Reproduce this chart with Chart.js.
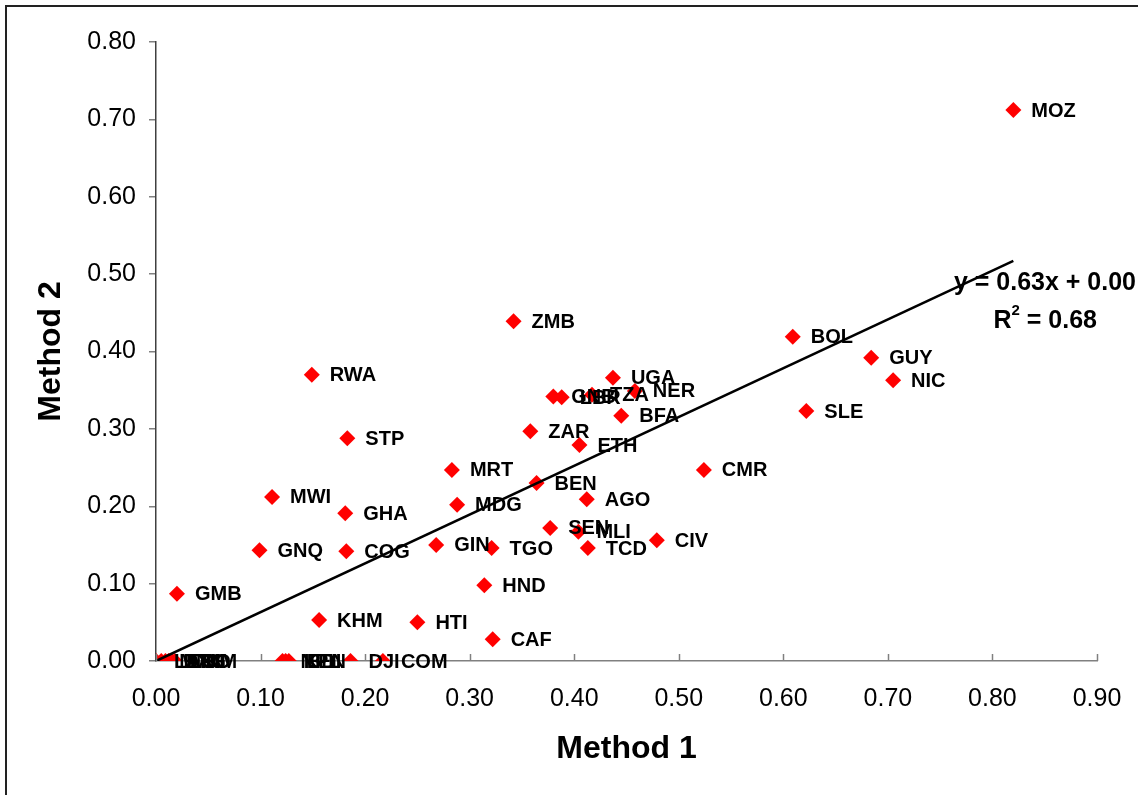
<!DOCTYPE html>
<html>
<head>
<meta charset="utf-8">
<title>Method 1 vs Method 2</title>
<script src="https://cdn.jsdelivr.net/npm/chart.js@4.4.0/dist/chart.umd.min.js"></script>
<style>
    html, body { margin: 0; padding: 0; background: #fff; }
    #wrap { position: relative; width: 1138px; height: 795px; overflow: hidden; }
    #frame { position: absolute; left: 5px; top: 5px; width: 1160px; height: 820px; border: 2px solid #222; box-sizing: border-box; pointer-events: none; }
</style>
</head>
<body>
<div id="wrap">
    <canvas id="scatterChart" width="1138" height="795"></canvas>
    <div id="frame"></div>
</div>
<script>
const countries = [
    'MOZ', 'ZMB', 'BOL', 'GUY', 'NIC', 'SLE', 'RWA', 'UGA', 'NER', 'GNB',
    'LBR', 'TZA', 'BFA', 'ZAR', 'ETH', 'STP', 'MRT', 'CMR', 'BEN', 'MWI',
    'AGO', 'MDG', 'GHA', 'SEN', 'MLI', 'TCD', 'CIV', 'GNQ', 'COG', 'GIN',
    'TGO', 'GMB', 'HND', 'KHM', 'HTI', 'CAF', 'NPL', 'KEN', 'BDI', 'DJI',
    'COM', 'LAO', 'MNG', 'BTN', 'ERI', 'LSO', 'VNM'
];
const method1 = [
    0.820, 0.342, 0.609, 0.684, 0.705, 0.622, 0.149, 0.437, 0.458, 0.380,
    0.388, 0.417, 0.445, 0.358, 0.405, 0.183, 0.283, 0.524, 0.364, 0.111,
    0.412, 0.288, 0.181, 0.377, 0.404, 0.413, 0.479, 0.099, 0.182, 0.268,
    0.321, 0.020, 0.314, 0.156, 0.250, 0.322, 0.121, 0.124, 0.127, 0.186,
    0.217, 0.000, 0.005, 0.009, 0.012, 0.015, 0.018
];
const method2 = [
    0.712, 0.439, 0.419, 0.392, 0.363, 0.323, 0.370, 0.366, 0.349, 0.342,
    0.341, 0.344, 0.317, 0.297, 0.279, 0.288, 0.247, 0.247, 0.230, 0.212,
    0.209, 0.202, 0.191, 0.172, 0.167, 0.146, 0.156, 0.143, 0.142, 0.150,
    0.146, 0.087, 0.098, 0.053, 0.050, 0.028, 0.000, 0.000, 0.000, 0.000,
    0.000, 0.000, 0.000, 0.000, 0.000, 0.000, 0.000
];
const trendX = [0.00, 0.82];
const trendY = [0.00, 0.517];
const equationText = 'y = 0.63x + 0.00';
const r2Text = '0.68';

const FONT = "'Liberation Sans', Arial, sans-serif";
const AXIS_GREY = '#808080';

// labels next to each diamond
const pointLabels = {
    id: 'pointLabels',
    afterDatasetsDraw(chart) {
        const ctx = chart.ctx;
        const meta = chart.getDatasetMeta(0);
        ctx.save();
        ctx.font = `bold 20px ${FONT}`;
        ctx.fillStyle = '#000';
        ctx.textBaseline = 'middle';
        meta.data.forEach((el, i) => {
            ctx.fillText(countries[i], el.x + 18, el.y + 1);
        });

        // equation + R2
        ctx.textAlign = 'right';
        ctx.font = `bold 25px ${FONT}`;
        ctx.fillText(equationText, 1136, 283);
        const rRight = 1097;
        const valueText = ' = ' + r2Text;
        const wVal = ctx.measureText(valueText).width;
        ctx.fillText(valueText, rRight, 321);
        ctx.font = `bold 15px ${FONT}`;
        const wSup = ctx.measureText('2').width;
        ctx.fillText('2', rRight - wVal, 311);
        ctx.font = `bold 25px ${FONT}`;
        ctx.fillText('R', rRight - wVal - wSup, 321);
        ctx.restore();
    },
    afterDraw(chart) {
        // x ticks point up into the plot
        const ctx = chart.ctx;
        const x = chart.scales.x;
        ctx.save();
        ctx.strokeStyle = AXIS_GREY;
        ctx.lineWidth = 1.5;
        x.ticks.forEach((t) => {
            const px = Math.round(x.getPixelForValue(t.value)) + 0.5;
            ctx.beginPath();
            ctx.moveTo(px, x.top);
            ctx.lineTo(px, x.top - 7);
            ctx.stroke();
        });
        ctx.restore();
    }
};

function renderChart() {
    const ctx = document.getElementById('scatterChart');
    const points = method1.map((v, i) => ({ x: v, y: method2[i] }));
    const trend = trendX.map((v, i) => ({ x: v, y: trendY[i] }));

    new Chart(ctx, {
        type: 'scatter',
        data: {
            datasets: [{
                label: 'Countries',
                data: points,
                pointStyle: 'rectRot',
                pointRadius: 8,
                backgroundColor: '#ff0000',
                borderColor: '#ff0000',
                borderWidth: 0,
                order: 1
            }, {
                type: 'line',
                label: 'Trend',
                data: trend,
                borderColor: '#000',
                borderWidth: 2.5,
                pointRadius: 0,
                fill: false,
                order: 0
            }]
        },
        options: {
            responsive: false,
            animation: false,
            layout: { padding: { top: 42, right: 41, left: 0, bottom: 0 } },
            plugins: { legend: { display: false }, tooltip: { enabled: false } },
            scales: {
                x: {
                    type: 'linear',
                    min: 0,
                    max: 0.9,
                    ticks: {
                        stepSize: 0.1,
                        color: '#000',
                        padding: 23,
                        font: { family: FONT, size: 25 },
                        callback: (v) => Number(v).toFixed(2)
                    },
                    grid: { drawOnChartArea: false, drawTicks: false },
                    border: { color: AXIS_GREY, width: 1.5 },
                    title: {
                        display: true,
                        text: 'Method 1',
                        color: '#000',
                        font: { family: FONT, size: 32, weight: 'bold' },
                        padding: { top: 0, bottom: 27 }
                    },
                    afterFit(scale) {
                        scale.height = 134;
                        scale.paddingLeft = 0;
                        scale.paddingRight = 0;
                    }
                },
                y: {
                    type: 'linear',
                    min: 0,
                    max: 0.8,
                    ticks: {
                        stepSize: 0.1,
                        color: '#000',
                        padding: 13,
                        font: { family: FONT, size: 25 },
                        callback: (v) => Number(v).toFixed(2)
                    },
                    grid: { drawOnChartArea: false, drawTicks: true, tickLength: 7, color: AXIS_GREY, lineWidth: 1.5 },
                    border: { color: '#404040', width: 1.5 },
                    title: {
                        display: true,
                        text: 'Method 2',
                        color: '#000',
                        font: { family: FONT, size: 32, weight: 'bold' },
                        padding: { top: 32, bottom: 0 }
                    },
                    afterFit(scale) {
                        scale.width = 156;
                        scale.paddingTop = 0;
                        scale.paddingBottom = 0;
                    }
                }
            }
        },
        plugins: [pointLabels]
    });
}

renderChart();
</script>
</body>
</html>
